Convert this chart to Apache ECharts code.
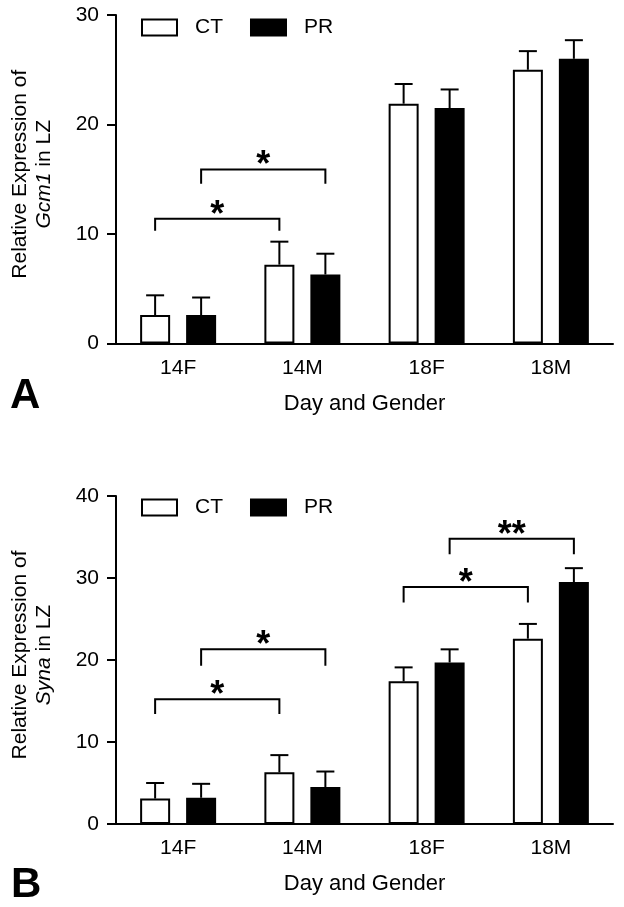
<!DOCTYPE html>
<html>
<head>
<meta charset="utf-8">
<script src="https://cdn.jsdelivr.net/npm/echarts@6/dist/echarts.min.js"></script>
<style>
  html, body { margin: 0; padding: 0; background: #fff; }
  #chart { width: 624px; height: 907px; }
</style>
</head>
<body>
<div id="chart"></div>
<script>
// categories and values
var categories = ['14F', '14M', '18F', '18M'];

// panel A: Gcm1
var gcm1CT = [2.6, 7.2, 21.9, 25.0];
var gcm1CTErr = [1.8, 2.1, 1.8, 1.7];
var gcm1PR = [2.6, 6.3, 21.5, 26.0];
var gcm1PRErr = [1.6, 1.9, 1.7, 1.7];
// [fromCat, fromSide, toCat, toSide, barY, dropY]   side 0 = CT, 1 = PR
var gcm1Brackets = [[0, 0, 1, 0, 11.4, 10.3], [0, 1, 1, 1, 15.9, 14.6]];
var gcm1Marks = ['*', '*'];

// panel B: Syna
var synaCT = [3.1, 6.3, 17.4, 22.6];
var synaCTErr = [1.9, 2.1, 1.7, 1.8];
var synaPR = [3.2, 4.5, 19.7, 29.5];
var synaPRErr = [1.7, 1.9, 1.6, 1.7];
var synaBrackets = [[0, 0, 1, 0, 15.2, 13.4], [0, 1, 1, 1, 21.3, 19.3], [2, 0, 3, 0, 28.9, 27.0], [2, 1, 3, 1, 34.8, 32.9]];
var synaMarks = ['*', '*', '*', '**'];

var yTicksA = { min: 0, max: 30, interval: 10 };
var yTicksB = { min: 0, max: 40, interval: 10 };

var FONT = 'Liberation Sans';
var BAR_W = 30;
var HALF_SPAN = 23; // distance from category centre to bar centre

var myChart = echarts.init(document.getElementById('chart'));

function errData(vals, errs) {
    return vals.map(function (v, i) { return [i, v, v + errs[i]]; });
}

function errorRender(side) {
    return function (params, api) {
        var base = api.coord([api.value(0), api.value(1)]);
        var top = api.coord([api.value(0), api.value(2)]);
        var cx = base[0] + side * HALF_SPAN;
        var style = { stroke: '#000', lineWidth: 2 };
        return {
            type: 'group',
            children: [
                { type: 'line', shape: { x1: cx, y1: base[1], x2: cx, y2: top[1] }, style: style },
                { type: 'line', shape: { x1: cx - 9, y1: top[1], x2: cx + 9, y2: top[1] }, style: style }
            ]
        };
    };
}

function bracketRender(marks) {
    return function (params, api) {
        var s1 = api.value(1) ? 1 : -1;
        var s2 = api.value(3) ? 1 : -1;
        var p1 = api.coord([api.value(0), api.value(4)]);
        var p2 = api.coord([api.value(2), api.value(4)]);
        var d = api.coord([api.value(0), api.value(5)]);
        var x1 = p1[0] + s1 * HALF_SPAN;
        var x2 = p2[0] + s2 * HALF_SPAN;
        return {
            type: 'group',
            children: [
                {
                    type: 'polyline',
                    shape: { points: [[x1, d[1]], [x1, p1[1]], [x2, p1[1]], [x2, d[1]]] },
                    style: { stroke: '#000', lineWidth: 2, fill: null }
                },
                {
                    type: 'text',
                    style: {
                        text: marks[params.dataIndex],
                        x: (x1 + x2) / 2,
                        y: p1[1] - 3,
                        align: 'center',
                        verticalAlign: 'middle',
                        font: 'bold 36px "' + FONT + '"',
                        fill: '#000'
                    }
                }
            ]
        };
    };
}

function xAxisCfg(gridIndex) {
    return {
        type: 'category',
        gridIndex: gridIndex,
        data: categories,
        axisTick: { show: false },
        axisLine: { lineStyle: { color: '#000', width: 2 } },
        axisLabel: { color: '#000', fontSize: 21, fontFamily: FONT, margin: 14 },
        name: 'Day and Gender',
        nameLocation: 'middle',
        nameGap: 49,
        nameTextStyle: { color: '#000', fontSize: 22, fontFamily: FONT }
    };
}

function yAxisCfg(gridIndex, ticks, gene) {
    return {
        type: 'value',
        gridIndex: gridIndex,
        min: ticks.min,
        max: ticks.max,
        interval: ticks.interval,
        splitLine: { show: false },
        axisLine: { show: true, lineStyle: { color: '#000', width: 2 } },
        axisTick: { show: true, length: 9, lineStyle: { color: '#000', width: 2 } },
        axisLabel: { color: '#000', fontSize: 21, fontFamily: FONT, margin: 17 },
        name: 'Relative Expression of\n{i|' + gene + '} in LZ',
        nameLocation: 'middle',
        nameRotate: 90,
        nameGap: 60,
        nameTextStyle: {
            color: '#000', fontSize: 21, fontFamily: FONT, lineHeight: 24,
            padding: [0, 0, 0, 10],
            rich: { i: { fontStyle: 'italic', fontSize: 21, fontFamily: FONT, color: '#000', lineHeight: 24 } }
        }
    };
}

function legendCfg(top) {
    return {
        data: ['CT', 'PR'],
        left: 136,
        top: top,
        icon: 'rect',
        itemWidth: 35,
        itemHeight: 16,
        itemGap: 27,
        selectedMode: false,
        itemStyle: { borderColor: '#000', borderWidth: 2 },
        textStyle: { color: '#000', fontSize: 21, fontFamily: FONT, padding: [0, 0, 0, 13] }
    };
}

function barSeries(name, data, idx, fill) {
    return {
        name: name,
        type: 'bar',
        xAxisIndex: idx,
        yAxisIndex: idx,
        data: data,
        barWidth: BAR_W,
        barGap: '53.3%',
        itemStyle: { color: fill, borderColor: '#000', borderWidth: 2 },
        emphasis: { disabled: true }
    };
}

function errSeries(vals, errs, idx, side) {
    return {
        type: 'custom',
        xAxisIndex: idx,
        yAxisIndex: idx,
        data: errData(vals, errs),
        encode: { x: 0, y: 2 },
        renderItem: errorRender(side),
        z: 3,
        silent: true
    };
}

function bracketSeries(brackets, marks, idx) {
    return {
        type: 'custom',
        xAxisIndex: idx,
        yAxisIndex: idx,
        data: brackets,
        encode: { x: 0, y: 4 },
        renderItem: bracketRender(marks),
        z: 3,
        silent: true
    };
}

myChart.setOption({
    backgroundColor: '#fff',
    animation: false,
    textStyle: { fontFamily: FONT },
    grid: [
        { left: 115, top: 15, width: 498, height: 328.5 },
        { left: 115, top: 496, width: 498, height: 328 }
    ],
    legend: [legendCfg(12), legendCfg(492)],
    xAxis: [xAxisCfg(0), xAxisCfg(1)],
    yAxis: [yAxisCfg(0, yTicksA, 'Gcm1'), yAxisCfg(1, yTicksB, 'Syna')],
    graphic: [
        { type: 'text', left: 10, top: 375, style: { text: 'A', font: 'bold 42px "' + FONT + '"', fill: '#000' } },
        { type: 'text', left: 11, top: 864, style: { text: 'B', font: 'bold 42px "' + FONT + '"', fill: '#000' } }
    ],
    series: [
        barSeries('CT', gcm1CT, 0, '#fff'),
        barSeries('PR', gcm1PR, 0, '#000'),
        errSeries(gcm1CT, gcm1CTErr, 0, -1),
        errSeries(gcm1PR, gcm1PRErr, 0, 1),
        bracketSeries(gcm1Brackets, gcm1Marks, 0),
        barSeries('CT', synaCT, 1, '#fff'),
        barSeries('PR', synaPR, 1, '#000'),
        errSeries(synaCT, synaCTErr, 1, -1),
        errSeries(synaPR, synaPRErr, 1, 1),
        bracketSeries(synaBrackets, synaMarks, 1)
    ]
});
</script>
</body>
</html>
